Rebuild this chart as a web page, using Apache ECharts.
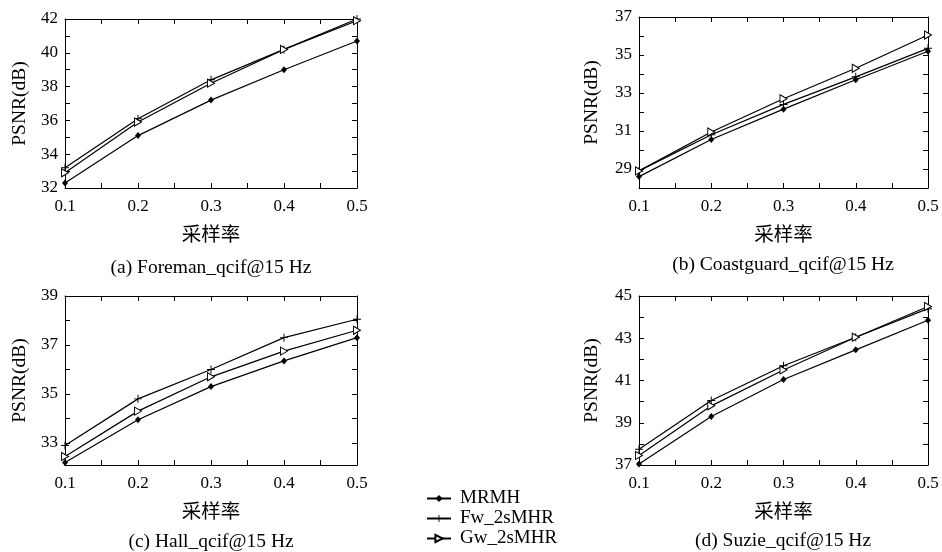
<!DOCTYPE html>
<html>
<head>
<meta charset="utf-8">
<script src="https://cdn.jsdelivr.net/npm/echarts@6/dist/echarts.min.js"></script>
<style>
  html, body { margin: 0; padding: 0; background: #fff; }
  #chart { width: 942px; height: 552px; }
</style>
</head>
<body>
<div id="chart"></div>
<script>
const FONT = '"Liberation Serif", "Noto Sans CJK SC", serif';

// sampling rates and tick positions
const xValues = [0.1, 0.2, 0.3, 0.4, 0.5];
const xTicks = [0.1, 0.15, 0.2, 0.25, 0.3, 0.35, 0.4, 0.45, 0.5];
const seriesNames = ['MRMH', 'Fw_2sMHR', 'Gw_2sMHR'];
const captions = ['(a) Foreman_qcif@15 Hz', '(b) Coastguard_qcif@15 Hz', '(c) Hall_qcif@15 Hz', '(d) Suzie_qcif@15 Hz'];

// (a) Foreman
const mrmhA = [32.3, 35.1, 37.2, 39.0, 40.7];
const fwA = [33.2, 36.1, 38.4, 40.2, 42.0];
const gwA = [32.9, 35.9, 38.2, 40.2, 41.9];
// (b) Coastguard
const mrmhB = [28.6, 30.55, 32.15, 33.7, 35.2];
const fwB = [28.9, 30.8, 32.4, 33.85, 35.35];
const gwB = [28.9, 30.95, 32.7, 34.3, 36.05];
// (c) Hall
const mrmhC = [32.2, 33.95, 35.3, 36.35, 37.3];
const fwC = [32.9, 34.8, 36.0, 37.3, 38.05];
const gwC = [32.45, 34.3, 35.7, 36.75, 37.6];
// (d) Suzie
const mrmhD = [37.05, 39.3, 41.05, 42.45, 43.85];
const fwD = [37.75, 40.05, 41.7, 43.05, 44.4];
const gwD = [37.45, 39.8, 41.5, 43.05, 44.5];

// y axis ranges, labels and ticks per panel
const yMin = [32, 28, 32.1, 37];
const yMax = [42, 37, 39, 45];
const yLabels = [
    [32, 34, 36, 38, 40, 42],
    [29, 31, 33, 35, 37],
    [33, 35, 37, 39],
    [37, 39, 41, 43, 45],
];
const yTicks = [
    [32, 33, 34, 35, 36, 37, 38, 39, 40, 41, 42],
    [28, 29, 30, 31, 32, 33, 34, 35, 36, 37],
    [33, 34, 35, 36, 37, 38, 39],
    [37, 38, 39, 40, 41, 42, 43, 44, 45],
];

const panelData = [
    [mrmhA, fwA, gwA],
    [mrmhB, fwB, gwB],
    [mrmhC, fwC, gwC],
    [mrmhD, fwD, gwD],
];

// grid boxes (px)
const grids = [
    { left: 65, top: 19, width: 292, height: 169 },
    { left: 639, top: 17, width: 289, height: 171 },
    { left: 65, top: 296, width: 292, height: 169 },
    { left: 639, top: 296, width: 289, height: 169 },
];
const captionPos = [[211, 268], [783, 265], [211, 542], [783, 541]];

const SYMBOLS = [
    { symbol: 'diamond', symbolSize: [6, 7], itemStyle: { color: '#000' } },
    { symbol: 'path://M0,4.4H10V5.6H0Z M4.4,0H5.6V10H4.4Z', symbolSize: 8, itemStyle: { color: '#000' } },
    { symbol: 'path://M0,0L10,5L0,10Z', symbolSize: [7, 8], itemStyle: { color: '#fff', borderColor: '#000', borderWidth: 1 } },
];

const axisLine = { show: true, lineStyle: { color: '#000', width: 1 } };
const tickStyle = { inside: true, length: 5, lineStyle: { color: '#000', width: 1 } };
const labelStyle = { color: '#000', fontFamily: FONT, fontSize: 17 };
const nameStyle = { color: '#000', fontFamily: FONT, fontSize: 19.5 };

const xAxis = [];
const yAxis = [];
grids.forEach((g, i) => {
    xAxis.push({
        type: 'value', gridIndex: i, min: 0.1, max: 0.5, position: 'bottom',
        name: '采样率', nameLocation: 'middle', nameGap: 38,
        nameTextStyle: nameStyle,
        axisLine, splitLine: { show: false },
        axisTick: { ...tickStyle, customValues: xTicks },
        axisLabel: { ...labelStyle, margin: 10, customValues: xValues, formatter: v => v.toFixed(1) },
    });
    yAxis.push({
        type: 'value', gridIndex: i, min: yMin[i], max: yMax[i], position: 'left',
        name: 'PSNR(dB)', nameLocation: 'middle', nameGap: i % 2 ? 37 : 35,
        nameTextStyle: nameStyle,
        axisLine, splitLine: { show: false },
        axisTick: { ...tickStyle, customValues: yTicks[i] },
        axisLabel: { ...labelStyle, margin: 7, customValues: yLabels[i], formatter: v => String(v) },
    });
});
// mirror axes on top / right for the frame and inner ticks
grids.forEach((g, i) => {
    xAxis.push({
        type: 'value', gridIndex: i, min: 0.1, max: 0.5, position: 'top',
        axisLine, splitLine: { show: false }, axisLabel: { show: false },
        axisTick: { ...tickStyle, customValues: xTicks },
    });
    yAxis.push({
        type: 'value', gridIndex: i, min: yMin[i], max: yMax[i], position: 'right',
        axisLine, splitLine: { show: false }, axisLabel: { show: false },
        axisTick: { ...tickStyle, customValues: yTicks[i] },
    });
});

const series = [];
panelData.forEach((rows, p) => {
    rows.forEach((vals, s) => {
        series.push({
            name: seriesNames[s],
            type: 'line',
            xAxisIndex: p,
            yAxisIndex: p,
            data: xValues.map((x, k) => [x, vals[k]]),
            lineStyle: { color: '#000', width: 1.2 },
            ...SYMBOLS[s],
            z: 3 + s,
            animation: false,
        });
    });
});

const chart = echarts.init(document.getElementById('chart'));
chart.setOption({
    backgroundColor: '#fff',
    animation: false,
    grid: grids,
    xAxis,
    yAxis,
    legend: {
        data: seriesNames,
        orient: 'vertical',
        left: 426,
        top: 489,
        height: 63,
        padding: 0,
        itemWidth: 24,
        itemHeight: 9,
        itemGap: 1,
        textStyle: { color: '#000', fontFamily: FONT, fontSize: 19, padding: [0, 0, 0, 4], lineHeight: 19 },
    },
    graphic: captions.map((t, i) => ({
        type: 'text',
        x: captionPos[i][0],
        y: captionPos[i][1],
        style: { text: t, fill: '#000', font: '19.5px ' + FONT, textAlign: 'center', textVerticalAlign: 'middle' },
    })),
    series,
});
</script>
</body>
</html>
